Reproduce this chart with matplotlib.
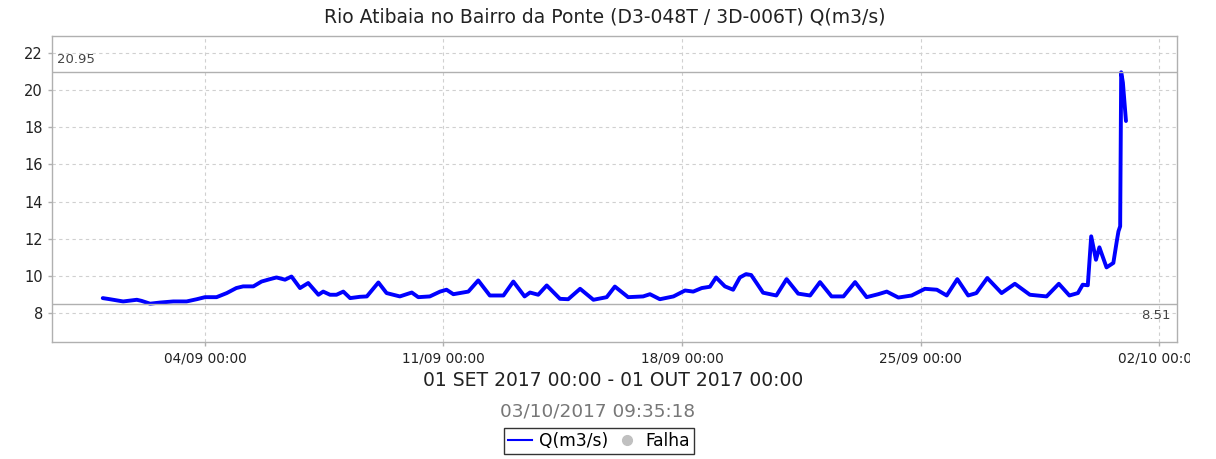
import numpy as np
import matplotlib
matplotlib.use('Agg')
import matplotlib.pyplot as plt
import matplotlib.dates as mdates
from matplotlib.lines import Line2D
from matplotlib.transforms import Bbox, TransformedBbox

# vazao do Rio Atibaia - setembro 2017
start = np.datetime64('2017-09-01T00:00')

days = [0.00, 0.21, 0.60, 1.00, 1.14, 1.39, 1.68, 2.07, 2.46, 2.76,
        3.00, 3.34, 3.64, 3.92, 4.12, 4.42, 4.66, 4.91, 5.10, 5.35,
        5.54, 5.79, 6.03, 6.33, 6.47, 6.67, 6.86, 7.06, 7.26, 7.55,
        7.75, 8.09, 8.33, 8.72, 9.07, 9.26, 9.60, 9.90, 10.09, 10.29,
        10.73, 11.02, 11.36, 11.76, 12.05, 12.38, 12.54, 12.78, 13.03, 13.42,
        13.66, 14.01, 14.40, 14.79, 15.03, 15.42, 15.86, 16.06, 16.35, 16.75,
        17.09, 17.33, 17.58, 17.82, 18.00, 18.26, 18.50, 18.70, 18.88, 19.03,
        19.19, 19.38, 19.77, 20.07, 20.41, 20.76, 21.05, 21.39, 21.74, 22.08,
        22.42, 22.76, 23.01, 23.35, 23.74, 24.13, 24.48, 24.77, 25.08, 25.40,
        25.64, 25.96, 26.38, 26.77, 27.21, 27.70, 28.06, 28.37, 28.62, 28.76,
        28.91, 29.01, 29.15, 29.25, 29.46, 29.66, 29.76, 29.81, 29.86, 29.89,
        29.94, 30.03]
flow = [8.81, 8.75, 8.63, 8.72, 8.66, 8.51, 8.57, 8.63, 8.63, 8.75,
        8.86, 8.86, 9.08, 9.35, 9.44, 9.44, 9.70, 9.83, 9.92, 9.80,
        9.97, 9.35, 9.62, 8.99, 9.16, 8.99, 8.99, 9.16, 8.81, 8.88,
        8.90, 9.65, 9.08, 8.90, 9.11, 8.86, 8.90, 9.16, 9.26, 9.02,
        9.16, 9.76, 8.95, 8.95, 9.70, 8.90, 9.11, 8.99, 9.49, 8.77,
        8.75, 9.31, 8.72, 8.86, 9.43, 8.86, 8.90, 9.02, 8.75, 8.90,
        9.22, 9.16, 9.35, 9.42, 9.92, 9.44, 9.26, 9.92, 10.10, 10.05,
        9.62, 9.10, 8.95, 9.83, 9.05, 8.95, 9.67, 8.90, 8.90, 9.67,
        8.86, 9.02, 9.16, 8.84, 8.95, 9.31, 9.26, 8.95, 9.83, 8.95,
        9.08, 9.89, 9.08, 9.58, 8.99, 8.90, 9.58, 8.95, 9.08, 9.53,
        9.50, 12.13, 10.87, 11.54, 10.46, 10.70, 11.86, 12.40, 12.67, 20.95,
        20.40, 18.33]

q_max = 20.95
q_min = 8.51
xtick_days = ['2017-09-04', '2017-09-11', '2017-09-18', '2017-09-25', '2017-10-02']
yticks = [8, 10, 12, 14, 16, 18, 20, 22]

title = 'Rio Atibaia no Bairro da Ponte (D3-048T / 3D-006T) Q(m3/s)'
periodo = '01 SET 2017 00:00 - 01 OUT 2017 00:00'
gerado = '03/10/2017 09:35:18'

times = start + (np.array(days) * 24 * 60).astype('timedelta64[m]')
times = times.astype('datetime64[s]').astype(object)

W, H = 1216, 459
fig = plt.figure(figsize=(W / 100, H / 100), dpi=100)
ax = fig.add_axes([52 / W, 1 - 342 / H, (1177 - 52) / W, (342 - 36) / H])

ax.plot(times, flow, color='#0000ff', linewidth=2.8, solid_joinstyle='round',
        solid_capstyle='round')

ax.axhline(q_max, color='#b0b0b0', linewidth=1.0)
ax.axhline(q_min, color='#b0b0b0', linewidth=1.0)
ax.text(0.004, q_max + 0.35, '%.2f' % q_max, transform=ax.get_yaxis_transform(),
        fontsize=9.5, color='#444444', ha='left', va='bottom')
ax.text(0.994, q_min - 0.3, '%.2f' % q_min, transform=ax.get_yaxis_transform(),
        fontsize=9.5, color='#444444', ha='right', va='top')

ax.set_xlim(np.datetime64('2017-08-30T12:15').astype(object),
            np.datetime64('2017-10-02T12:40').astype(object))
ax.set_ylim(6.45, 22.9)
ax.set_yticks(yticks)
ax.set_xticks([np.datetime64(d).astype('datetime64[s]').astype(object) for d in xtick_days])
ax.xaxis.set_major_formatter(mdates.DateFormatter('%d/%m %H:%M'))

ax.grid(True, color='#d0d0d0', linestyle=(0, (3, 3)), linewidth=0.8)
for sp in ax.spines.values():
    sp.set_color('#b0b0b0')
    sp.set_linewidth(1.0)
ax.tick_params(axis='both', colors='#b0b0b0', labelcolor='#222222', length=3, width=1)
ax.tick_params(axis='x', labelsize=9.8)
ax.tick_params(axis='y', labelsize=10.5)

# ultimo rotulo cortado na borda
clip = Bbox.from_extents(0, 0, 1190 / W, 1)
lbl = ax.get_xticklabels()[-1]
lbl.set_clip_on(True)
lbl.set_clip_box(TransformedBbox(clip, fig.transFigure))

fig.text(605 / W, 1 - 17 / H, title, ha='center', va='center', fontsize=13.5, color='#222222')
fig.text(613 / W, 1 - 381 / H, periodo, ha='center', va='center', fontsize=13.5, color='#222222')
fig.text(598 / W, 1 - 411 / H, gerado, ha='center', va='center', fontsize=13.3, color='#777777')

handles = [Line2D([0], [0], color='#0000ff', linewidth=1.5),
           Line2D([0], [0], marker='o', color='#c0c0c0', linestyle='none', markersize=7)]
leg = fig.legend(handles, ['Q(m3/s)', 'Falha'], loc='center', bbox_to_anchor=(599 / W, 1 - 441 / H),
                 ncol=2, fontsize=12.3, frameon=True, fancybox=False, handlelength=1.4,
                 handletextpad=0.4, columnspacing=0.4, borderpad=0.25, borderaxespad=0)
leg.get_frame().set_edgecolor('#000000')
leg.get_frame().set_linewidth(1.0)

fig.savefig('out.png', dpi=100)
